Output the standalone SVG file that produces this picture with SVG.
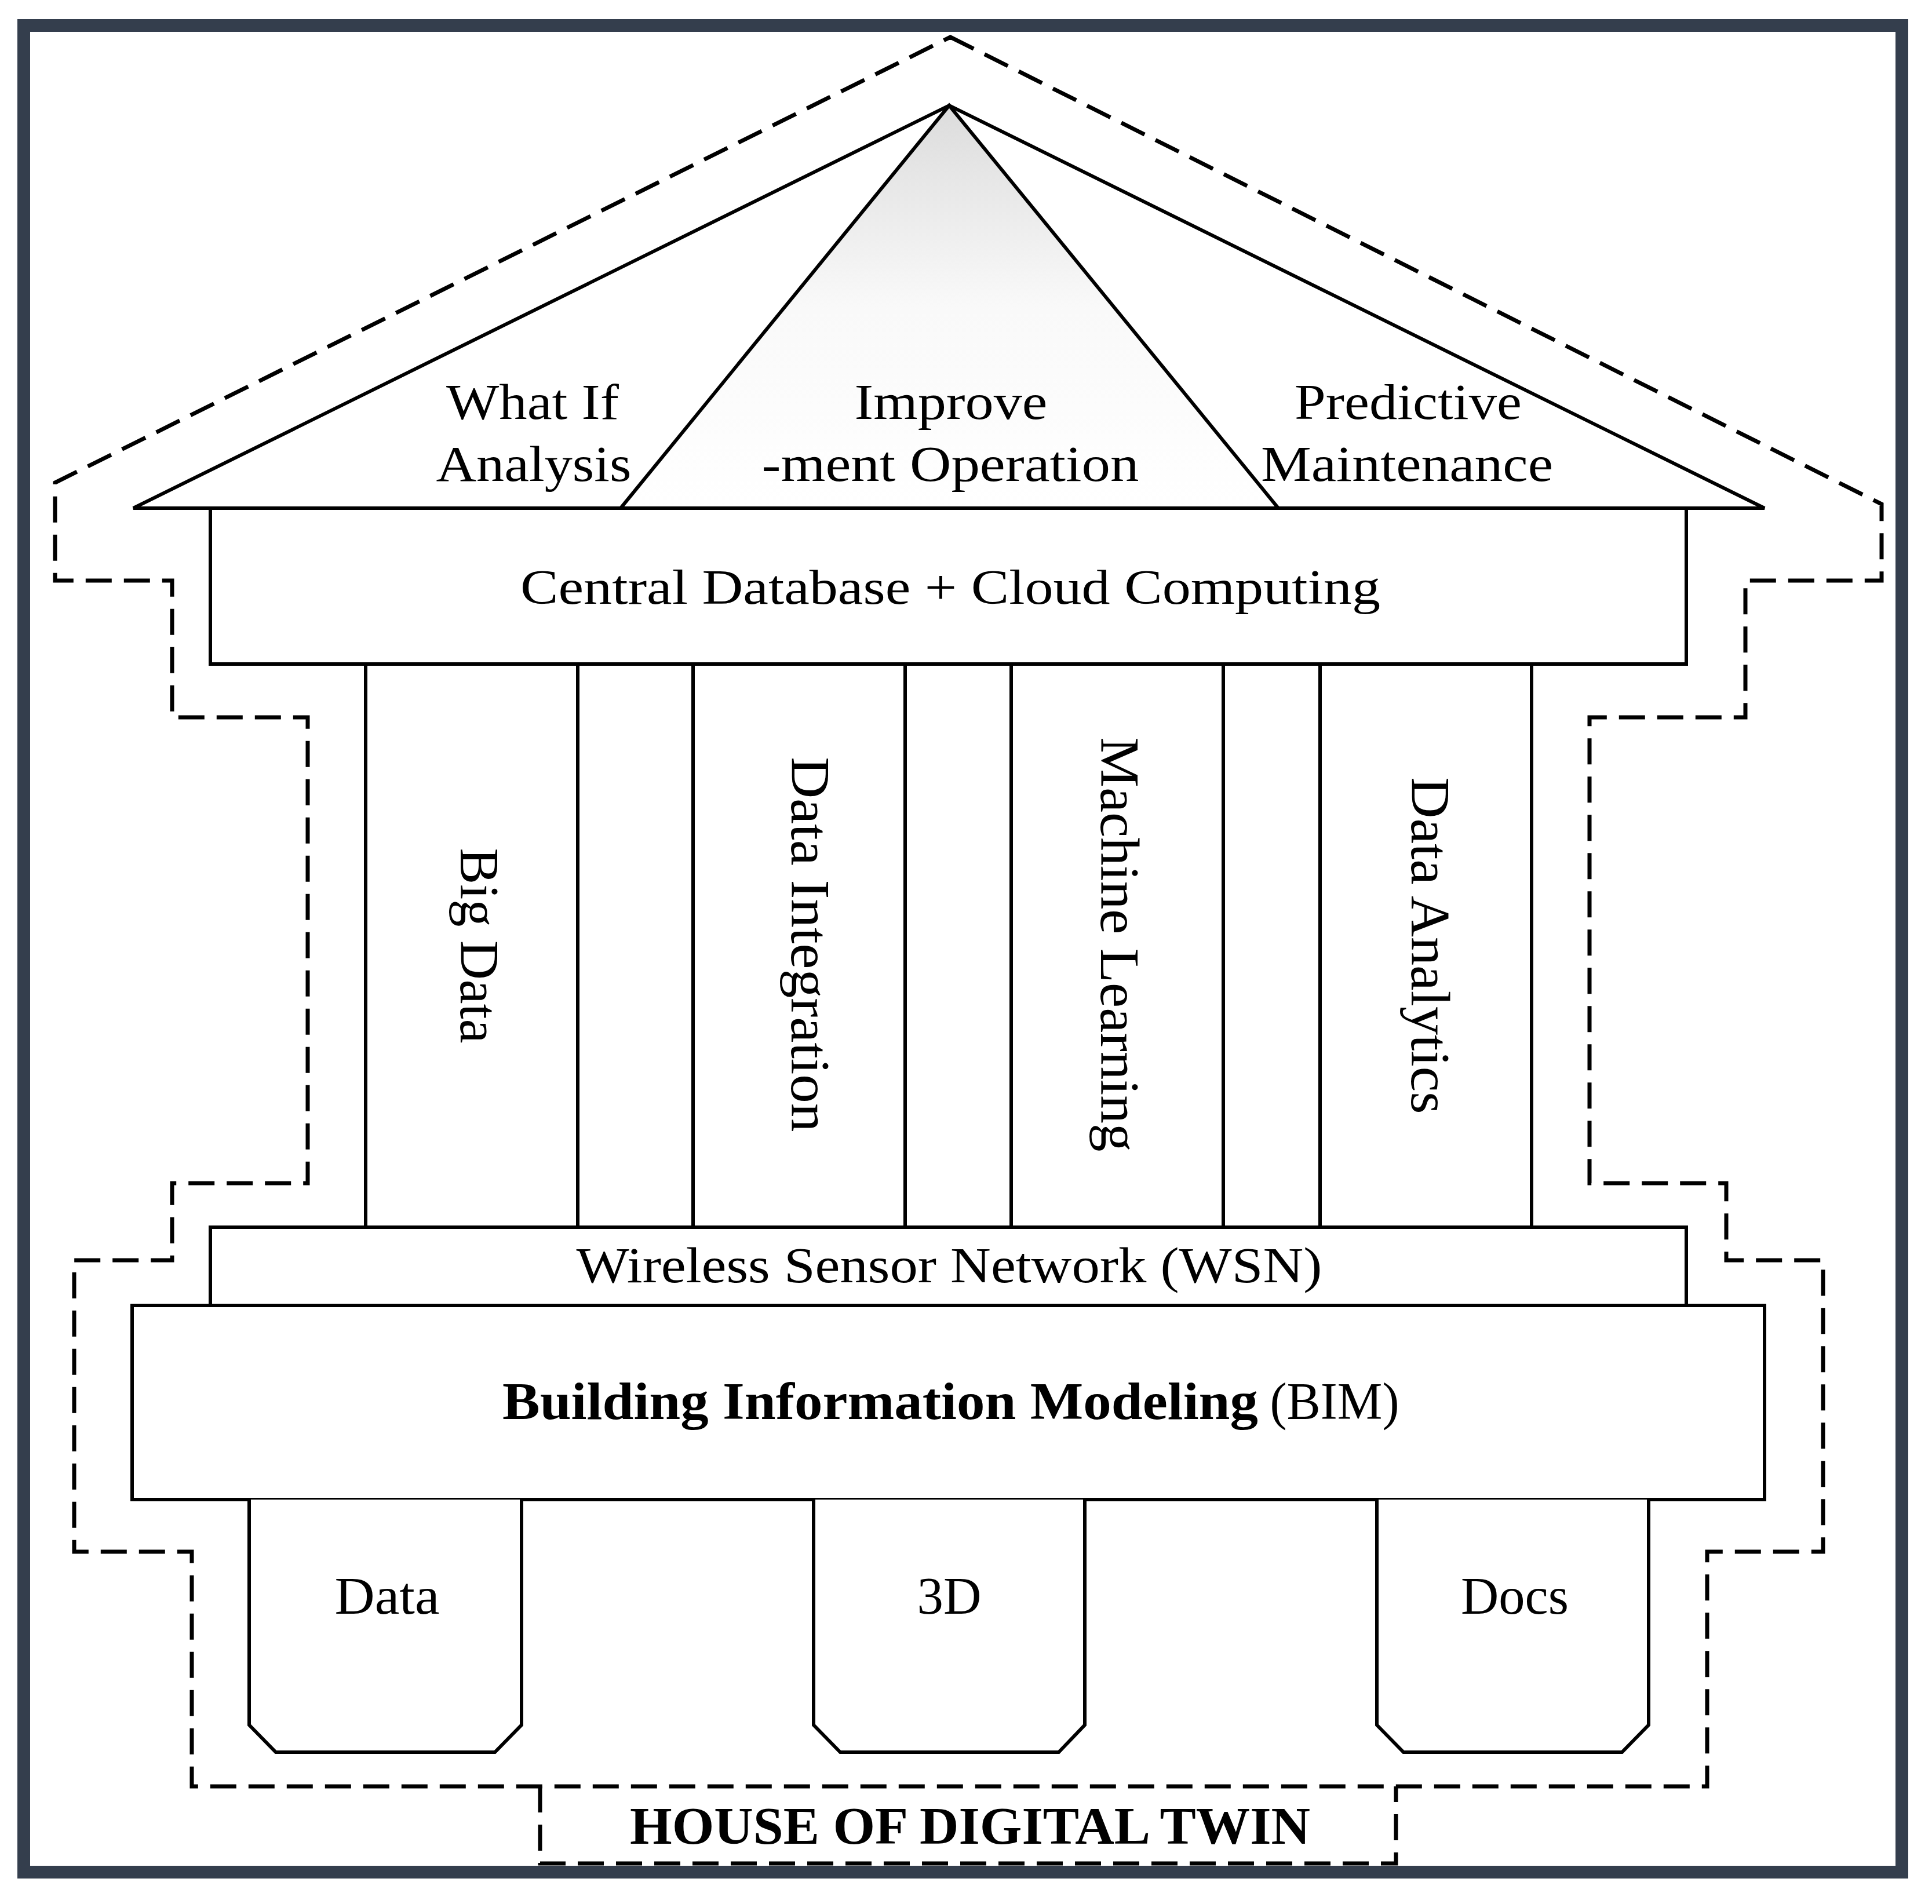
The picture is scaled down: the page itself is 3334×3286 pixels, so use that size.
<svg xmlns="http://www.w3.org/2000/svg" width="3334" height="3286" viewBox="0 0 3334 3286">
<style>
.s{fill:#fff;stroke:#000;stroke-width:6;stroke-linejoin:miter}
.d{fill:none;stroke:#000;stroke-width:7;stroke-dasharray:45 21}
.t{font-family:"Liberation Serif","Times New Roman",serif;fill:#000;text-anchor:middle}
.r{font-size:86px}
.p{font-size:96px}
.f{font-size:92px}
.b{font-weight:bold}
</style>
<defs>
<linearGradient id="g" gradientUnits="userSpaceOnUse" x1="0" y1="182" x2="0" y2="877">
<stop offset="0" stop-color="#dcdcdc"/>
<stop offset="0.5" stop-color="#f9f9f9"/>
<stop offset="1" stop-color="#ffffff"/>
</linearGradient>
</defs>
<rect width="3334" height="3286" fill="#fff"/>
<g id="outline">
<path class="d" d="M1640,64 L3247,870 V1002 H3012 V1238 H2743 V2042 H2979 V2175 H3146 V2678 H2946 V3083 H331 V2678 H128 V2175 H297 V2042 H531 V1238 H297 V1002 H95 V833 Z"/>
<path class="d" d="M932,3083 V3216 H2409 V3083"/>
</g>
<g id="roof">
<polygon class="s" points="230,877 1638,182 3045,877"/>
<polygon class="s" points="1071,877 1638,182 2206,877" style="fill:url(#g)"/>
<text class="t r" x="919" y="723" textLength="298" lengthAdjust="spacingAndGlyphs">What If</text>
<text class="t r" x="921" y="830" textLength="337" lengthAdjust="spacingAndGlyphs">Analysis</text>
<text class="t r" x="1641" y="723" textLength="333" lengthAdjust="spacingAndGlyphs">Improve</text>
<text class="t r" x="1640" y="830" textLength="651" lengthAdjust="spacingAndGlyphs">-ment Operation</text>
<text class="t r" x="2430" y="723" textLength="392" lengthAdjust="spacingAndGlyphs">Predictive</text>
<text class="t r" x="2428" y="830" textLength="504" lengthAdjust="spacingAndGlyphs">Maintenance</text>
</g>
<g id="cdb">
<rect class="s" x="363" y="877" width="2547" height="269"/>
<text class="t" style="font-size:84px" x="1640" y="1042" textLength="1484" lengthAdjust="spacingAndGlyphs">Central Database + Cloud Computing</text>
</g>
<g id="pillar-bigdata">
<rect class="s" x="631" y="1146" width="366" height="972"/>
<text class="t p" transform="translate(795,1632) rotate(90)" textLength="337" lengthAdjust="spacingAndGlyphs">Big Data</text>
</g>
<g id="gap1"><rect class="s" x="997" y="1146" width="199" height="972"/></g>
<g id="pillar-integration">
<rect class="s" x="1196" y="1146" width="366" height="972"/>
<text class="t p" transform="translate(1366,1630) rotate(90)" textLength="647" lengthAdjust="spacingAndGlyphs">Data Integration</text>
</g>
<g id="gap2"><rect class="s" x="1562" y="1146" width="183" height="972"/></g>
<g id="pillar-ml">
<rect class="s" x="1745" y="1146" width="366" height="972"/>
<text class="t p" transform="translate(1900,1630) rotate(90)" textLength="715" lengthAdjust="spacingAndGlyphs">Machine Learning</text>
</g>
<g id="gap3"><rect class="s" x="2111" y="1146" width="167" height="972"/></g>
<g id="pillar-analytics">
<rect class="s" x="2278" y="1146" width="365" height="972"/>
<text class="t p" transform="translate(2436,1632) rotate(90)" textLength="581" lengthAdjust="spacingAndGlyphs">Data Analytics</text>
</g>
<g id="wsn">
<rect class="s" x="363" y="2118" width="2547" height="135"/>
<text class="t r" x="1638" y="2213" textLength="1287" lengthAdjust="spacingAndGlyphs">Wireless Sensor Network (WSN)</text>
</g>
<g id="bim">
<rect class="s" x="228" y="2253" width="2817" height="335"/>
<text class="t b" style="font-size:90px" x="1519" y="2449" textLength="1304" lengthAdjust="spacingAndGlyphs">Building Information Modeling</text>
<text class="t" style="font-size:90px" x="2303" y="2449" textLength="223" lengthAdjust="spacingAndGlyphs">(BIM)</text>
</g>
<g id="foot-data">
<path class="s" d="M430,2588 V2977 L476,3024 H854 L900,2977 V2588"/>
<text class="t f" x="668" y="2785" textLength="181" lengthAdjust="spacingAndGlyphs">Data</text>
</g>
<g id="foot-3d">
<path class="s" d="M1404,2588 V2977 L1450,3024 H1827 L1872,2977 V2588"/>
<text class="t f" x="1638" y="2785" textLength="111" lengthAdjust="spacingAndGlyphs">3D</text>
</g>
<g id="foot-docs">
<path class="s" d="M2376,2588 V2977 L2422,3024 H2799 L2845,2977 V2588"/>
<text class="t f" x="2614" y="2785" textLength="186" lengthAdjust="spacingAndGlyphs">Docs</text>
</g>
<g id="label">
<text class="t f b" x="1674" y="3182" textLength="1174" lengthAdjust="spacingAndGlyphs">HOUSE OF DIGITAL TWIN</text>
</g>
<rect id="frame" x="41" y="44" width="3241" height="3187" fill="none" stroke="#343e4d" stroke-width="22"/>
</svg>
